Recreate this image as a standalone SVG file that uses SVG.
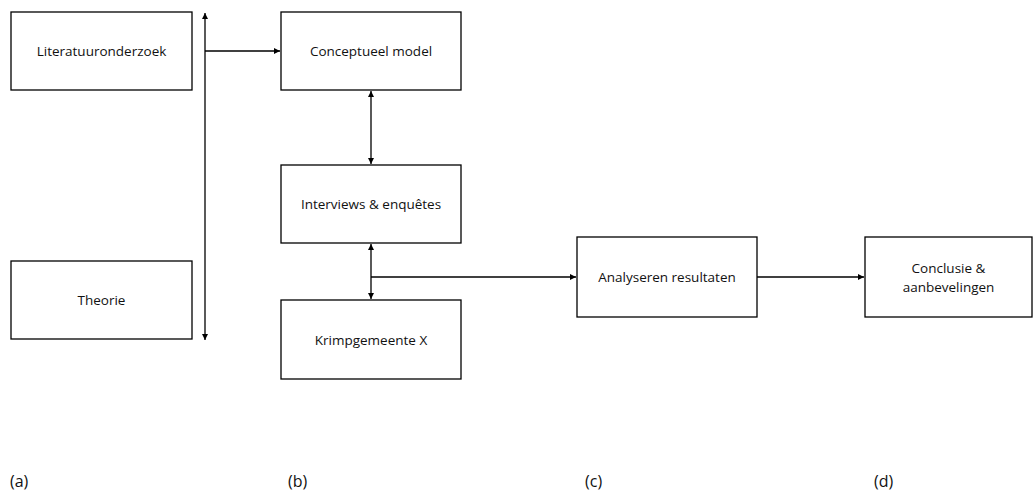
<svg xmlns="http://www.w3.org/2000/svg" width="1035" height="492" viewBox="0 0 1035 492">
<style>
.box{fill:#fff;stroke:#000;stroke-width:1.3}
.t{font-family:"Open Sans","Liberation Sans",sans-serif;font-size:13.5px;fill:#111;text-anchor:middle;dominant-baseline:central}
.lbl{font-family:"Open Sans","Liberation Sans",sans-serif;font-size:16px;fill:#111}
.c{stroke:#000;stroke-width:1.3;fill:none}
</style>
<defs>
<marker id="ah" viewBox="0 0 8 8" refX="8" refY="4" markerWidth="6" markerHeight="6" markerUnits="userSpaceOnUse" orient="auto-start-reverse">
<path d="M0,0 L8,4 L0,8 z" fill="#000"/>
</marker>
</defs>
<rect width="1035" height="492" fill="#fff"/>
<g id="connectors">
<line class="c" x1="205" y1="13" x2="205" y2="340" marker-start="url(#ah)" marker-end="url(#ah)"/>
<line class="c" x1="205" y1="51" x2="280" y2="51" marker-end="url(#ah)"/>
<line class="c" x1="371" y1="91" x2="371" y2="164" marker-start="url(#ah)" marker-end="url(#ah)"/>
<line class="c" x1="371" y1="244" x2="371" y2="299" marker-start="url(#ah)" marker-end="url(#ah)"/>
<line class="c" x1="371" y1="277" x2="576" y2="277" marker-end="url(#ah)"/>
<line class="c" x1="757" y1="277" x2="864" y2="277" marker-end="url(#ah)"/>
</g>
<g id="literatuuronderzoek">
<rect class="box" x="11" y="12" width="181" height="78"/>
<text class="t" x="101.5" y="51">Literatuuronderzoek</text>
</g>
<g id="theorie">
<rect class="box" x="11" y="261" width="181" height="78"/>
<text class="t" x="101.5" y="300">Theorie</text>
</g>
<g id="conceptueel">
<rect class="box" x="281" y="12" width="180" height="78"/>
<text class="t" x="371" y="51">Conceptueel model</text>
</g>
<g id="interviews">
<rect class="box" x="281" y="165" width="180" height="78"/>
<text class="t" x="371" y="204">Interviews &amp; enquêtes</text>
</g>
<g id="krimpgemeente">
<rect class="box" x="281" y="300" width="180" height="79"/>
<text class="t" x="371" y="340">Krimpgemeente X</text>
</g>
<g id="analyseren">
<rect class="box" x="577" y="237" width="180" height="80"/>
<text class="t" x="667" y="277">Analyseren resultaten</text>
</g>
<g id="conclusie">
<rect class="box" x="865" y="237" width="167" height="80"/>
<text class="t" x="948.5" y="268">Conclusie &amp;</text>
<text class="t" x="948.5" y="287">aanbevelingen</text>
</g>
<g id="labels">
<text class="lbl" x="10" y="487">(a)</text>
<text class="lbl" x="288" y="487">(b)</text>
<text class="lbl" x="585" y="487">(c)</text>
<text class="lbl" x="874" y="487">(d)</text>
</g>
</svg>
